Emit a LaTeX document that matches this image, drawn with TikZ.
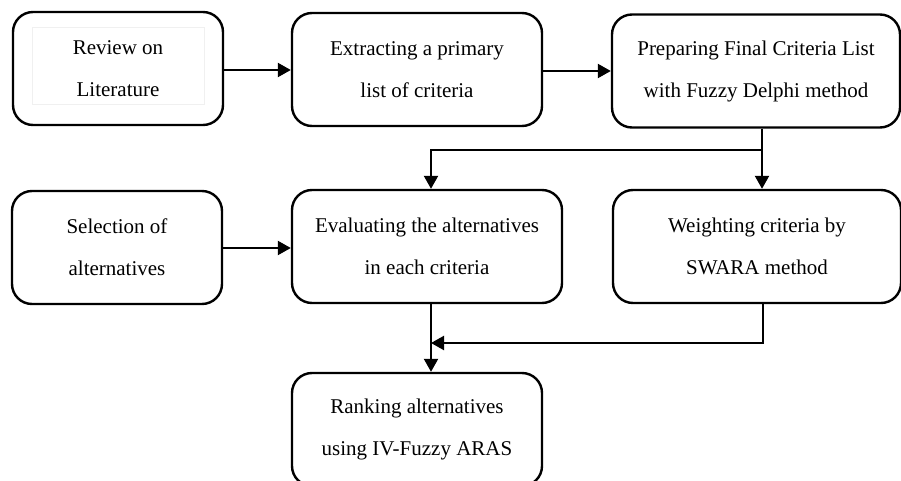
\documentclass[tikz,border=0pt]{standalone}
\usepackage{fontspec}
\setmainfont{Liberation Serif}
\usepackage{tikz}
\usetikzlibrary{arrows.meta}
\usetikzlibrary{calc}

\begin{document}
\begin{tikzpicture}[x=1pt, y=-1pt,
    every node/.style={draw=black, line width=2.4pt, rounded corners=20pt, align=center,
      minimum height=113pt, inner sep=0pt, font=\fontsize{21}{42}\selectfont},
    arr/.style={line width=2.2pt, -{Triangle[length=13pt, width=14pt]}}]

        % Page frame
        \clip (0, 0) rectangle (901, 481);

        % Top row
        \node[minimum width=210pt] (lit) at (118, 68.5) {Review on\\Literature};
        \node[minimum width=250pt] (extract) at (417, 69.5) {Extracting a primary\\list of criteria};
        \node[minimum width=288pt] (prep) at (756, 71) {Preparing Final Criteria List\\with Fuzzy Delphi method};

        % Faint frame of the first text box
        \draw[gray!12, line width=0.6pt] (32, 27) rectangle (204, 104);

        % Middle row
        \node[minimum width=210pt] (select) at (117, 247.5) {Selection of\\alternatives};
        \node[minimum width=270pt] (eval) at (427, 246.5) {Evaluating the alternatives\\in each criteria};
        \node[minimum width=288pt] (weight) at (757, 246.5) {Weighting criteria by\\SWARA method};

        % Bottom row
        \node[minimum width=250pt] (rank) at (417, 429.5) {Ranking alternatives\\using IV-Fuzzy ARAS};

        % Branch and merge points
        \coordinate (fork) at (762, 150);
        \coordinate (turn) at (431, 150);
        \coordinate (merge) at (431, 343);
        \coordinate (drop) at (763, 343);

        % Connectors
        \draw[arr] (lit.east |- 0, 70) -- (extract.west |- 0, 70);
        \draw[arr] (extract.east |- 0, 71) -- (prep.west |- 0, 71);
        \draw[arr] (prep.south -| fork) -- (weight.north -| fork);
        \draw[arr] (fork) -| (eval.north -| turn);
        \draw[arr] (select.east |- 0, 248) -- (eval.west |- 0, 248);
        \draw[arr] (eval.south -| merge) -- (rank.north -| merge);
        \draw[arr] (weight.south -| drop) |- (merge);

      \end{tikzpicture}
\end{document}
